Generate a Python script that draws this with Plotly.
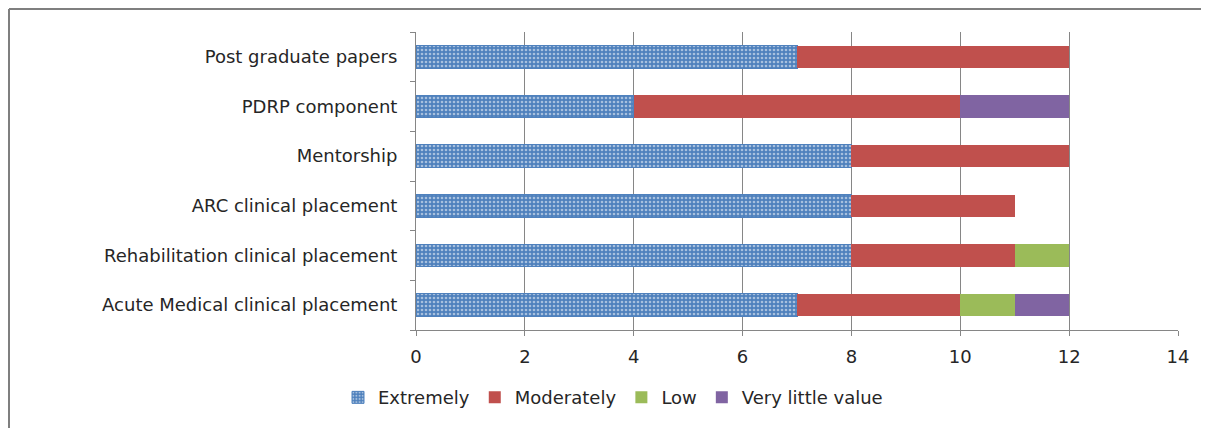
import plotly.graph_objects as go

categories = ["Acute Medical clinical placement", "Rehabilitation clinical placement",
              "ARC clinical placement", "Mentorship", "PDRP component", "Post graduate papers"]
extremely = [7, 8, 8, 8, 4, 7]
moderately = [3, 3, 3, 4, 6, 5]
low = [1, 1, 0, 0, 0, 0]
very_little = [1, 0, 0, 0, 2, 0]
x_ticks = [0, 2, 4, 6, 8, 10, 12, 14]

FONT = "DejaVu Sans"
FS = 18
fig = go.Figure()
fig.add_trace(go.Bar(y=categories, x=extremely, name="Extremely", orientation="h",
                     marker=dict(color="#4F81BD", line=dict(color="#4F81BD", width=1),
                                 pattern=dict(shape=".", fgcolor="white", bgcolor="#4F81BD",
                                              size=4, solidity=0.35))))
fig.add_trace(go.Bar(y=categories, x=moderately, name="Moderately", orientation="h",
                     marker=dict(color="#C0504D", line=dict(width=0))))
fig.add_trace(go.Bar(y=categories, x=low, name="Low", orientation="h",
                     marker=dict(color="#9BBB59", line=dict(width=0))))
fig.add_trace(go.Bar(y=categories, x=very_little, name="Very little value", orientation="h",
                     marker=dict(color="#8064A2", line=dict(width=0))))

# page body has an 8px margin; compensate so the chart lands where the reference has it
OFF = 8
W, H = 1209 - OFF, 428 - OFF
ml, mr, mt, mb = 416 - OFF, 31, 32 - OFF, 98
pw, ph = W - ml - mr, H - mt - mb
legend_cx = (613 - OFF - ml) / pw

fig.update_layout(
    barmode="stack", bargap=0.55,
    width=W, height=H,
    margin=dict(l=ml, r=mr, t=mt, b=mb, pad=0, autoexpand=False),
    plot_bgcolor="white", paper_bgcolor="white",
    font=dict(family=FONT, size=FS, color="#262626"),
    showlegend=True,
    legend=dict(orientation="h", x=legend_cx, xanchor="center",
                y=-0.165, yanchor="top", font=dict(size=FS, family=FONT),
                traceorder="normal", itemwidth=30),
    xaxis=dict(range=[0, 14], tickvals=x_ticks, showgrid=True, gridcolor="#868686", gridwidth=1,
               showline=True, linecolor="#868686", linewidth=1, ticks="outside", ticklen=5,
               tickcolor="#868686", zeroline=False, tickfont=dict(size=FS), fixedrange=True,
               ticklabelstandoff=5),
    yaxis=dict(categoryorder="array", categoryarray=categories, showline=True, linecolor="#868686",
               linewidth=1, ticks="outside", ticklen=5, tickcolor="#868686", tickson="boundaries",
               showgrid=False, tickfont=dict(size=FS), ticklabelstandoff=14),
)
# outer frame (left & top edges)
fx0 = (1 - ml) / pw
fy1 = 1 + (mt - 1) / ph
fig.add_shape(type="line", xref="paper", yref="paper", x0=fx0, x1=fx0, y0=fy1, y1=-1,
              line=dict(color="#7F7F7F", width=2))
fig.add_shape(type="line", xref="paper", yref="paper", x0=fx0, x1=2, y0=fy1, y1=fy1,
              line=dict(color="#7F7F7F", width=2))
fig.write_html("out.html")
